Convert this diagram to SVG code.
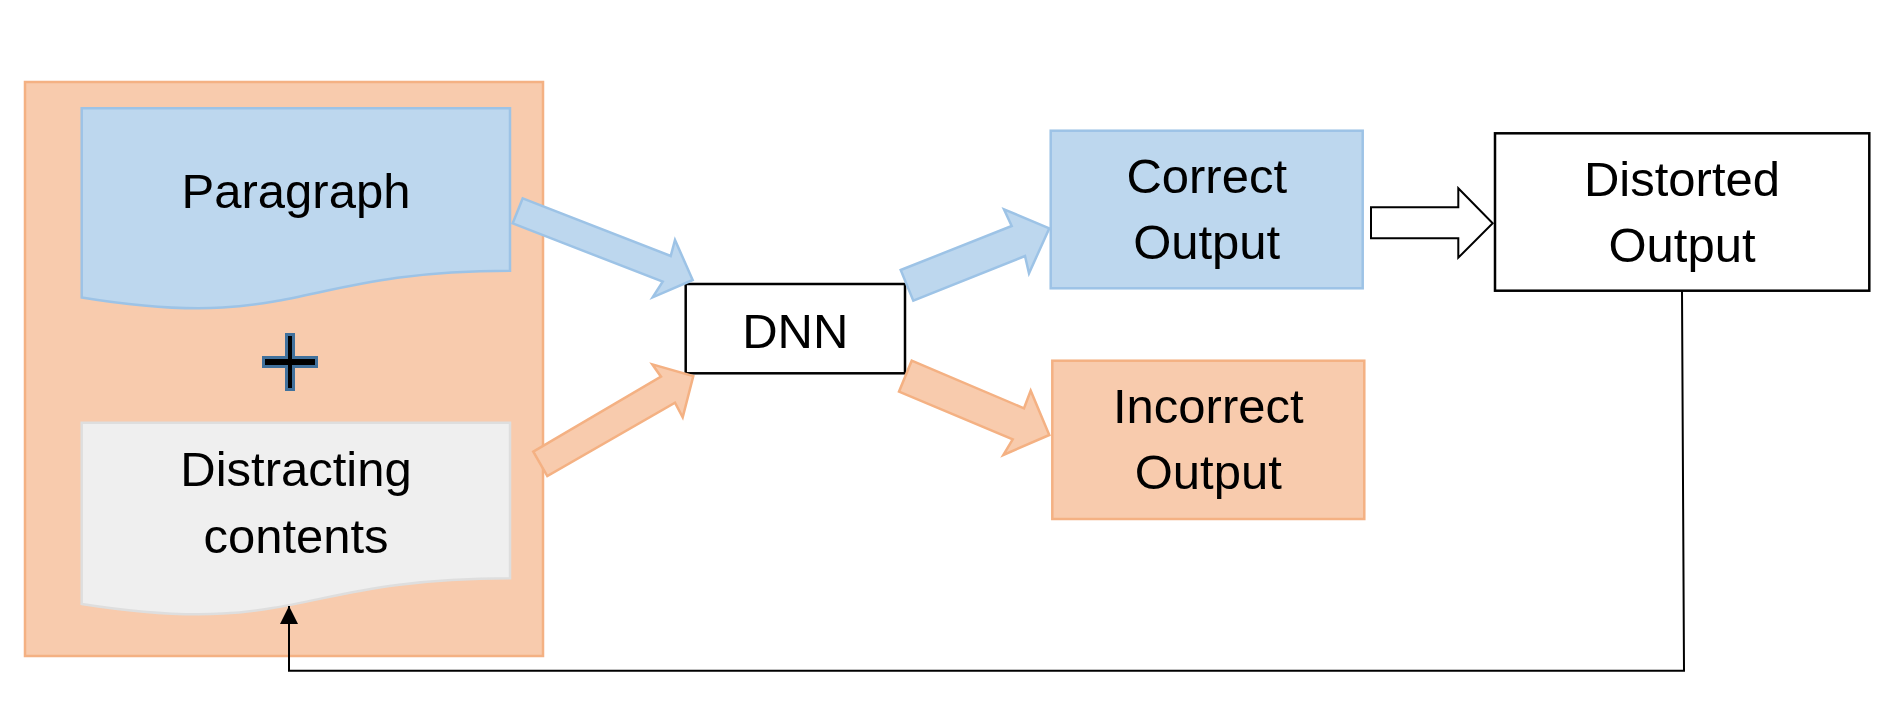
<svg xmlns="http://www.w3.org/2000/svg" width="1890" height="711" viewBox="0 0 1890 711">
<defs>
<style>
.lbl{font-family:"Liberation Sans",Arial,sans-serif;font-size:49px;fill:#000;text-anchor:middle}
.orange{fill:#F8CBAD;stroke:#F4B183;stroke-width:2.5}
.blue{fill:#BDD7EE;stroke:#9DC3E6;stroke-width:2.5}
.gray{fill:#EFEFEF;stroke:#DEDEDE;stroke-width:2.5}
.box{fill:#fff;stroke:#000;stroke-width:2.5}
.conn{fill:none;stroke:#000;stroke-width:2}
</style>
<marker id="ah" viewBox="0 0 18 18" refX="18" refY="9" markerWidth="18" markerHeight="18" markerUnits="userSpaceOnUse" orient="auto">
<path d="M0,0 L18,9 L0,18 Z" fill="#000"/>
</marker>
</defs>
<rect width="1890" height="711" fill="#fff"/>
<g id="input-group">
<rect class="orange" x="25" y="82" width="518" height="574" stroke-width="3"/>
</g>
<g id="paragraph">
<path class="blue" d="M81.7,108.3 L510,108.3 L510,270.7 C296,270.7 296,332.6 81.7,297.4 Z"/>
<text class="lbl" x="296" y="208">Paragraph</text>
</g>
<g id="plus">
<path d="M286.5,334.5 L293.5,334.5 L293.5,357.5 L316.5,357.5 L316.5,366.5 L293.5,366.5 L293.5,389.5 L286.5,389.5 L286.5,366.5 L263.5,366.5 L263.5,357.5 L286.5,357.5 Z" fill="#000" stroke="#41719C" stroke-width="3"/>
</g>
<g id="distracting">
<path class="gray" d="M81.7,422.7 L510,422.7 L510,578.3 C296,578.3 296,637.6 81.7,603.9 Z"/>
<text class="lbl" x="296" y="486">Distracting</text>
<text class="lbl" x="296" y="552.7">contents</text>
</g>
<g id="dnn">
<rect class="box" x="685.7" y="284" width="219.3" height="89.3"/>
<text class="lbl" x="795.3" y="347.7">DNN</text>
</g>
<g id="correct">
<rect class="blue" x="1050.7" y="130.7" width="312" height="157.6"/>
<text class="lbl" x="1206.7" y="193.3">Correct</text>
<text class="lbl" x="1206.7" y="259.3">Output</text>
</g>
<g id="incorrect">
<rect class="orange" x="1052.3" y="360.7" width="312" height="158.3"/>
<text class="lbl" x="1208.3" y="423.3">Incorrect</text>
<text class="lbl" x="1208.3" y="489.3">Output</text>
</g>
<g id="distorted">
<rect class="box" x="1495" y="133.3" width="374.3" height="157.4" stroke-width="2"/>
<text class="lbl" x="1682" y="195.8">Distorted</text>
<text class="lbl" x="1682" y="261.8">Output</text>
</g>
<g id="connectors">
<polygon class="blue" points="522.7,198.3 670.7,256 675,240 692.7,280 652.7,297.3 662.7,281.7 512.7,223.3"/>
<polygon class="orange" points="533.3,451.7 661,376.7 652.3,364.3 693.3,376 682.7,417.3 675,402.7 547.3,476"/>
<polygon class="blue" points="900.7,270 1011.7,226 1004,209.3 1049.3,228.3 1029,273.3 1025,256 913.3,300.7"/>
<polygon class="orange" points="911.7,360.7 1024,408.3 1030.7,390.7 1049.3,435 1003.3,455 1012.7,439.3 899,391.7"/>
<polygon points="1371,207.3 1458.3,207.3 1458.3,188.3 1492.7,223.3 1458.3,257.7 1458.3,238.3 1371,238.3" fill="#fff" stroke="#000" stroke-width="2"/>
<polyline class="conn" points="1682,291 1684,670.7 289,670.7 289,606" marker-end="url(#ah)"/>
</g>
</svg>
